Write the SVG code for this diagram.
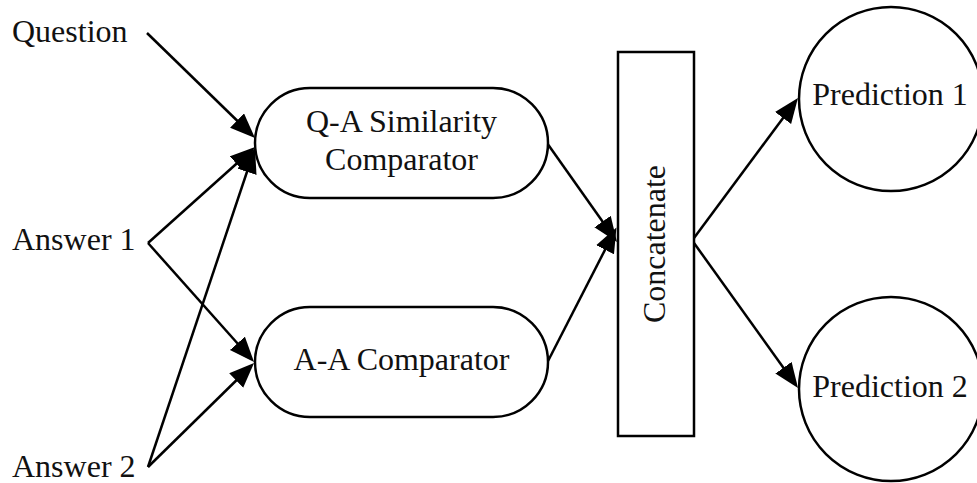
<svg xmlns="http://www.w3.org/2000/svg" width="977" height="483" viewBox="0 0 977 483">
<style>
text{font-family:"Liberation Serif","Times New Roman",serif;font-size:32px;fill:#111}
.shape{fill:#fff;stroke:#000;stroke-width:2.5}
.edge{fill:none;stroke:#000;stroke-width:2.5}
.c{text-anchor:middle}
</style>
<defs>
<marker id="ah" markerUnits="userSpaceOnUse" markerWidth="26" markerHeight="22" refX="15" refY="10" orient="auto" viewBox="0 0 26 22">
<path d="M0,0 L25,10 L0,20 z" fill="#000"/>
</marker>
</defs>
<rect width="977" height="483" fill="#fff"/>
<g id="connectors">
<path class="edge" marker-end="url(#ah)" d="M147,33 L247.8,131"/>
<path class="edge" marker-end="url(#ah)" d="M148,243 L247.6,153.7"/>
<path class="edge" marker-end="url(#ah)" d="M148,467 L251.8,157.5"/>
<path class="edge" marker-end="url(#ah)" d="M148,243 L247.4,354.5"/>
<path class="edge" marker-end="url(#ah)" d="M148,467 L246.9,370"/>
<path class="edge" marker-end="url(#ah)" d="M547,143 L611.2,233.8"/>
<path class="edge" marker-end="url(#ah)" d="M547,363 L611.9,236.4"/>
<path class="edge" marker-end="url(#ah)" d="M694,238 L792,106"/>
<path class="edge" marker-end="url(#ah)" d="M694,243 L792.2,379.9"/>
</g>
<g id="question"><text x="12" y="42">Question</text></g>
<g id="answer1"><text x="12" y="250">Answer 1</text></g>
<g id="answer2"><text x="12" y="477">Answer 2</text></g>
<g id="qa-comparator">
<rect class="shape" x="255" y="88" width="293" height="110" rx="55" ry="55"/>
<text class="c" x="401.5" y="132">Q-A Similarity</text>
<text class="c" x="401.5" y="170">Comparator</text>
</g>
<g id="aa-comparator">
<rect class="shape" x="255" y="307" width="293" height="110" rx="55" ry="55"/>
<text class="c" x="401.5" y="370">A-A Comparator</text>
</g>
<g id="concatenate">
<rect class="shape" x="618" y="52" width="76" height="384"/>
<text class="c" transform="translate(665,244) rotate(-90)" x="0" y="0">Concatenate</text>
</g>
<g id="prediction1">
<circle class="shape" cx="891" cy="99" r="92"/>
<text class="c" x="890" y="105">Prediction 1</text>
</g>
<g id="prediction2">
<circle class="shape" cx="891" cy="389" r="92"/>
<text class="c" x="890" y="397">Prediction 2</text>
</g>
</svg>
